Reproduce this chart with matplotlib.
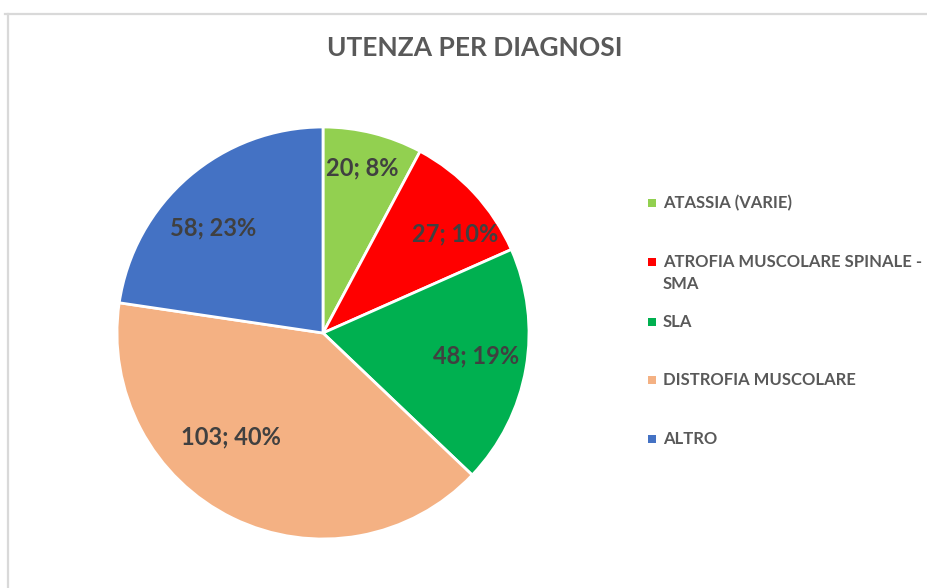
import matplotlib

matplotlib.use("Agg")
import matplotlib.pyplot as plt
import numpy as np
from matplotlib.lines import Line2D
from matplotlib.patches import Rectangle

plt.rcParams["font.family"] = ["Lato", "DejaVu Sans"]

title = "UTENZA PER DIAGNOSI"
categories = [
    "ATASSIA (VARIE)",
    "ATROFIA MUSCOLARE SPINALE -\nSMA",
    "SLA",
    "DISTROFIA MUSCOLARE",
    "ALTRO",
]
values = [20, 27, 48, 103, 58]
percent_labels = [8, 10, 19, 40, 23]
colors = ["#92D050", "#FF0000", "#00B050", "#F4B183", "#4472C4"]

W, H = 928, 588
fig = plt.figure(figsize=(W / 100, H / 100), dpi=100)

# light gray chart border (top and left visible)
fig.add_artist(Line2D([5 / W, 1], [1 - 14 / H] * 2, color="#D9D9D9", lw=1.6))
fig.add_artist(Line2D([8 / W] * 2, [0, 1 - 14 / H], color="#D9D9D9", lw=1.6))

fig.text(475 / W, 1 - 48 / H, title, ha="center", va="center",
         fontsize=19, fontweight="bold", color="#595959")

cx, cy, r = 323, 333, 206
ax = fig.add_axes([(cx - r) / W, 1 - (cy + r) / H, 2 * r / W, 2 * r / H])
wedges, _ = ax.pie(values, colors=colors, startangle=90, counterclock=False,
                   radius=1, wedgeprops=dict(edgecolor="white", linewidth=2))
ax.set_xlim(-1, 1)
ax.set_ylim(-1, 1)
ax.set_aspect("equal")
ax.axis("off")

# label placement (Excel "best fit" style), polar angle in degrees and radius fraction
label_ang = [76.8, 36.9, -8.5, -131.5, 136.3]
label_dist = [0.825, 0.80, 0.75, 0.675, 0.74]
for v, p, a, d in zip(values, percent_labels, label_ang, label_dist):
    t = np.deg2rad(a)
    ax.text(d * np.cos(t), d * np.sin(t), f"{v}; {p}%", ha="center", va="center",
            fontsize=17, fontweight="bold", color="#404040")

leg_y = [203, 262, 322, 380, 439]
for cat, col, y in zip(categories, colors, leg_y):
    fig.add_artist(Rectangle(((652 - 4) / W, 1 - (y + 4) / H), 8 / W, 8 / H,
                             facecolor=col, edgecolor="none"))
    fig.text(663 / W, 1 - (y - 8) / H, cat, ha="left", va="top", fontsize=12,
             fontweight="bold", color="#595959", linespacing=1.45)

fig.savefig("out.png", dpi=100)
